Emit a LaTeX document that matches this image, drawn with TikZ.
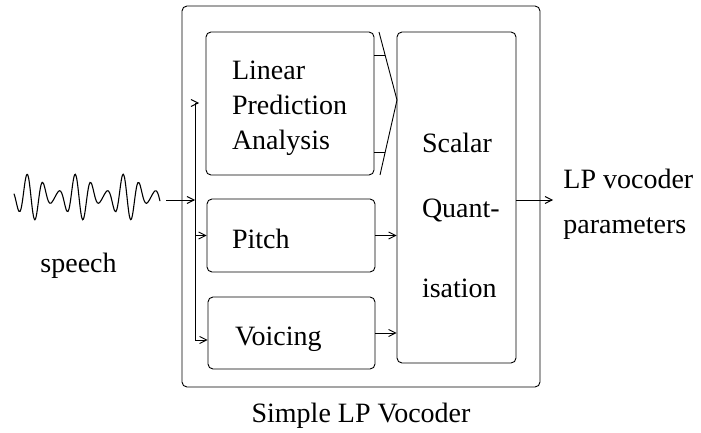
\documentclass[tikz,border=0pt]{standalone}
\usepackage{fontspec}
\setmainfont{Liberation Serif}
\usetikzlibrary{arrows.meta, positioning}
\tikzstyle{block} = [draw, rounded corners=5pt, align=left, inner ysep=0pt]
\tikzstyle{caption} = [inner sep=0pt, align=left]
\tikzstyle{signal} = [-{Straight Barb[length=7pt, width=7pt]}]

\begin{document}
\begin{tikzpicture}[x=1pt, y=-1pt, line width=0.9pt, font=\fontsize{28}{35}\selectfont]
	\useasboundingbox (0,0) rectangle (701,433);

	% speech waveform
	\draw[line width=1.1pt] plot[smooth, domain=14:160, samples=120]
		(\x, {197 - 24*(0.6+0.4*cos(7.5*(\x-31)))*cos(22.5*(\x-27))});
	\node (Speech) [caption, anchor=base west] at (40,272) {speech};
	\coordinate (WaveEnd) at (166,200);

	% vocoder frame
	\node (Vocoder) [draw, rounded corners=5pt, minimum width=358, minimum height=381] at (361,196.5) {};
	\node (Title) [caption, anchor=base] at (361,422) {Simple LP Vocoder};

	% analysis blocks
	\node (LPA) [block, text width=116, inner xsep=26, text height=48, text depth=95] at (290,103.5)
		{Linear\\Prediction\\Analysis};
	\node (Pitch) [block, text width=118, inner xsep=25, text height=49, text depth=24] at (291,235.5) {Pitch};
	\node (Voicing) [block, text width=113, inner xsep=27, text height=48, text depth=24] at (291.5,333) {Voicing};

	% quantiser
	\node (SQ) [block, text width=69, inner xsep=25, text height=120, text depth=211] at (456.5,197.5)
		{Scalar\\[31pt]\mbox{Quant-}\\[44pt]isation};

	% input bus
	\coordinate (BusIn) at (195,200);
	\coordinate (BusTop) at (195,103);
	\coordinate (BusBot) at (195,340);
	\coordinate (LPAIn) at (199,103);
	\draw[signal] (WaveEnd) -- (BusIn);
	\draw (BusTop) -- (BusBot);
	\draw[signal] (BusTop) -- (LPAIn);
	\draw[signal] (Pitch.west -| BusTop) -- (Pitch.west);
	\draw[signal] (BusBot) -- (BusBot -| Voicing.west);

	% LP coefficients into the quantiser
	\coordinate (FunTop) at (379,32);
	\coordinate (FunTip) at (397,100);
	\coordinate (FunBot) at (380,175);
	\coordinate (StubA) at (385,55);
	\coordinate (StubB) at (385,152);
	\draw (FunTop) -- (FunTip) -- (FunBot);
	\draw (LPA.east |- StubA) -- (StubA);
	\draw (LPA.east |- StubB) -- (StubB);

	\draw[signal] (Pitch.east) -- (Pitch.east -| SQ.west);
	\draw[signal] (Voicing.east) -- (Voicing.east -| SQ.west);

	% output
	\coordinate (Out) at (553,200);
	\draw[signal] (SQ.east |- Out) -- (Out);
	\node (Params) [caption, anchor=base west] at (563,233) {LP vocoder\\[10pt]parameters};
\end{tikzpicture}
\end{document}
